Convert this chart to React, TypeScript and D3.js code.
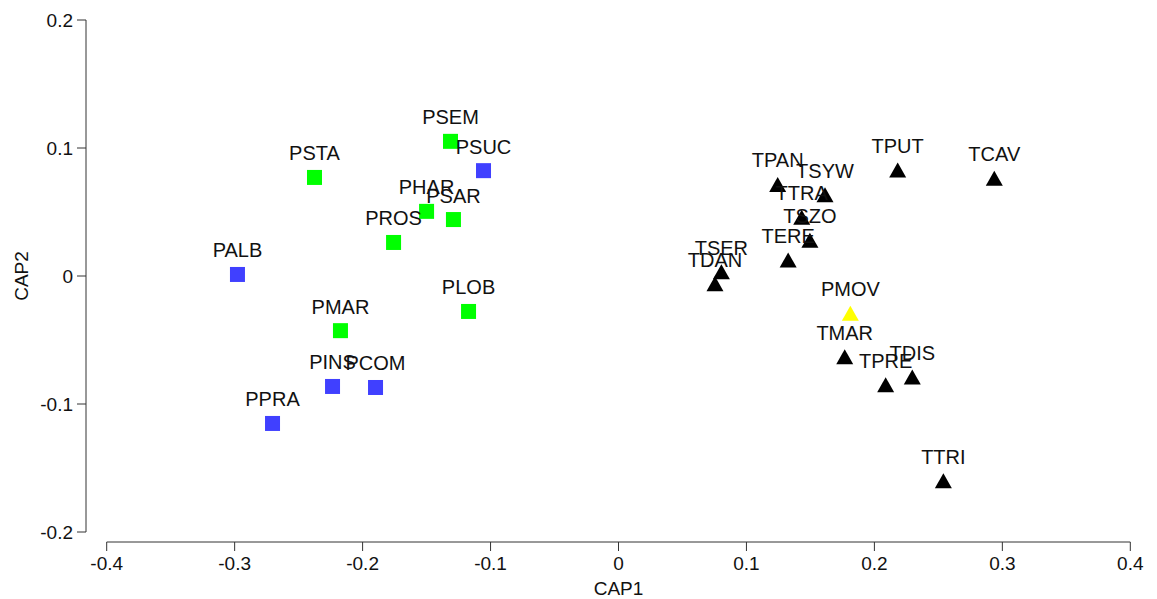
import { useEffect, useRef } from 'react'
import * as d3 from 'd3'

// group P, blue squares
const bluePoints = [
  { name: 'PALB', x: -0.2978, y: 0.0012 },
  { name: 'PSUC', x: -0.1055, y: 0.0823 },
  { name: 'PINS', x: -0.2235, y: -0.0863 },
  { name: 'PCOM', x: -0.1899, y: -0.0871 },
  { name: 'PPRA', x: -0.2704, y: -0.1152 },
]

// group P, green squares
const greenPoints = [
  { name: 'PSTA', x: -0.2376, y: 0.077 },
  { name: 'PSEM', x: -0.1313, y: 0.1052 },
  { name: 'PHAR', x: -0.15, y: 0.0505 },
  { name: 'PSAR', x: -0.129, y: 0.0441 },
  { name: 'PROS', x: -0.1758, y: 0.0262 },
  { name: 'PLOB', x: -0.1172, y: -0.0277 },
  { name: 'PMAR', x: -0.2173, y: -0.0427 },
]

// group T, black triangles
const blackPoints = [
  { name: 'TPAN', x: 0.1244, y: 0.0715 },
  { name: 'TSYW', x: 0.1614, y: 0.0634 },
  { name: 'TTRA', x: 0.1432, y: 0.0459 },
  { name: 'TSZO', x: 0.1496, y: 0.0279 },
  { name: 'TERE', x: 0.1326, y: 0.0125 },
  { name: 'TSER', x: 0.0804, y: 0.0033 },
  { name: 'TDAN', x: 0.0754, y: -0.0061 },
  { name: 'TPUT', x: 0.2182, y: 0.0828 },
  { name: 'TCAV', x: 0.2937, y: 0.0763 },
  { name: 'TMAR', x: 0.1768, y: -0.063 },
  { name: 'TPRE', x: 0.2088, y: -0.0849 },
  { name: 'TDIS', x: 0.2296, y: -0.079 },
  { name: 'TTRI', x: 0.2539, y: -0.16 },
]

// the odd one out, yellow triangle
const yellowPoints = [{ name: 'PMOV', x: 0.1812, y: -0.0291 }]

const xTicks = [-0.4, -0.3, -0.2, -0.1, 0, 0.1, 0.2, 0.3, 0.4]
const yTicks = [-0.2, -0.1, 0, 0.1, 0.2]

const W = 1157
const H = 599
const FONT = '"Liberation Sans", Arial, sans-serif'

const App = () => {
  const svgRef = useRef<SVGSVGElement>(null)

  useEffect(() => {
    const svg = d3.select(svgRef.current)
    svg.selectAll('*').remove()

    const x = d3.scaleLinear().domain([-0.4, 0.4]).range([106.7, 1130.3])
    const y = d3.scaleLinear().domain([-0.2, 0.2]).range([532, 20])

    // plain hyphen for the minus sign, like the original
    const fmt = (v: number) => (v === 0 ? '0' : d3.format('.1f')(v).replace('\u2212', '-'))

    // y axis
    const yAxis = svg.append('g').attr('transform', 'translate(86,0)')
    yAxis
      .append('line')
      .attr('y1', y(-0.2))
      .attr('y2', y(0.2))
      .attr('stroke', '#333')
    yAxis
      .selectAll('g.tick')
      .data(yTicks)
      .enter()
      .append('g')
      .attr('transform', (d) => `translate(0,${y(d)})`)
      .each(function (d) {
        const t = d3.select(this)
        t.append('line').attr('x1', -9).attr('x2', 0).attr('stroke', '#333')
        t.append('text')
          .attr('x', -13)
          .attr('dy', '0.35em')
          .attr('text-anchor', 'end')
          .attr('font-size', 19)
          .attr('font-family', FONT)
          .attr('fill', '#111')
          .text(fmt(d))
      })

    // x axis
    const xAxis = svg.append('g').attr('transform', 'translate(0,542)')
    xAxis
      .append('line')
      .attr('x1', x(-0.4))
      .attr('x2', x(0.4))
      .attr('stroke', '#333')
    xAxis
      .selectAll('g.tick')
      .data(xTicks)
      .enter()
      .append('g')
      .attr('transform', (d) => `translate(${x(d)},0)`)
      .each(function (d) {
        const t = d3.select(this)
        t.append('line').attr('y1', 0).attr('y2', 9).attr('stroke', '#333')
        t.append('text')
          .attr('y', 28)
          .attr('text-anchor', 'middle')
          .attr('font-size', 19)
          .attr('font-family', FONT)
          .attr('fill', '#111')
          .text(fmt(d))
      })

    // axis titles
    svg
      .append('text')
      .attr('x', x(0))
      .attr('y', 595)
      .attr('text-anchor', 'middle')
      .attr('font-size', 19)
      .attr('font-family', FONT)
      .attr('fill', '#111')
      .text('CAP1')
    svg
      .append('text')
      .attr('transform', `translate(28,${y(0)}) rotate(-90)`)
      .attr('text-anchor', 'middle')
      .attr('font-size', 19)
      .attr('font-family', FONT)
      .attr('fill', '#111')
      .text('CAP2')

    const tri = 'M0,-7.5L8.5,7.5L-8.5,7.5Z'

    const groups = [
      { data: bluePoints, color: '#4040ff', shape: 'square' },
      { data: greenPoints, color: '#00ff00', shape: 'square' },
      { data: blackPoints, color: '#000000', shape: 'triangle' },
      { data: yellowPoints, color: '#ffff00', shape: 'triangle' },
    ]

    const marks = svg.append('g')
    const labels = svg.append('g')

    groups.forEach((grp) => {
      grp.data.forEach((p) => {
        const cx = x(p.x)
        const cy = y(p.y)
        if (grp.shape === 'square') {
          marks
            .append('rect')
            .attr('x', cx - 7.5)
            .attr('y', cy - 7.5)
            .attr('width', 15)
            .attr('height', 15)
            .attr('fill', grp.color)
        } else {
          marks
            .append('path')
            .attr('d', tri)
            .attr('transform', `translate(${cx},${cy})`)
            .attr('fill', grp.color)
        }
        labels
          .append('text')
          .attr('x', cx)
          .attr('y', cy - 17)
          .attr('text-anchor', 'middle')
          .attr('font-size', 20)
          .attr('font-family', FONT)
          .attr('fill', '#111')
          .text(p.name)
      })
    })
  }, [])

  return (
    <div style={{ position: 'absolute', left: 0, top: 0 }}>
      <svg ref={svgRef} width={W} height={H} style={{ display: 'block', background: '#fff' }}></svg>
    </div>
  )
}

export default App
